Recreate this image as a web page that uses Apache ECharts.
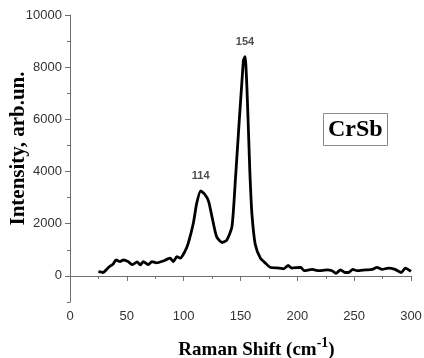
<!DOCTYPE html>
<html>
<head>
<meta charset="utf-8">
<script src="https://cdn.jsdelivr.net/npm/echarts@6/dist/echarts.min.js"></script>
<style>html,body{margin:0;padding:0;background:#fff;}#c{width:424px;height:358px;}</style>
</head>
<body>
<div id="c"></div>
<script>
const ramanShift = [25,29,34,38,40.5,44,47,51,55,59,62,64.5,69,72,76,82,88,91,94,97,101,104,108.5,111.5,115,119,122,125,129,134,138,142.5,145.5,152.5,154,158.5,160,163,167.5,172,176,184,188,192,195,203,206,213,219,226,230.5,234,238,242,245,248.7,252.5,260,266,270,274.5,280,286,291.5,295,300];
const intensity = [160,130,330,460,610,550,610,550,430,540,420,550,430,550,500,570,680,550,740,680,930,1250,2020,2790,3260,3100,2850,2250,1500,1280,1380,1890,3680,8250,8400,3700,2400,1200,680,490,330,300,270,400,300,330,200,250,200,230,200,100,230,130,130,250,200,230,250,330,250,300,250,130,300,170];
const peakShift = [115, 154];
const peakIntensity = [3260, 8400];
const peakLabels = ['114', '154'];
const yTicks = [0, 2000, 4000, 6000, 8000, 10000];
const yMinorTicks = [-1000, 1000, 3000, 5000, 7000, 9000];

const chart = echarts.init(document.getElementById('c'));
const axisColor = '#6f6f6f';
chart.setOption({
  animation: false,
  grid: {left: 70, right: 13, top: 15, bottom: 56, containLabel: false, outerBoundsMode: 'none'},
  title: {
    text: 'CrSb', left: 323, top: 113,
    padding: [5, 5, 4, 5],
    borderColor: '#8a8a8a', borderWidth: 1,
    textStyle: {fontFamily: 'Liberation Serif', fontWeight: 'bold', fontSize: 24, color: '#000'}
  },
  xAxis: {
    type: 'value', min: 0, max: 300, interval: 50,
    name: '{a|Raman Shift (cm}{s|-1}{a|)}',
    nameLocation: 'middle', nameGap: 34, nameMoveOverlap: false,
    nameTextStyle: {
      padding: [0, 0, 0, 32],
      rich: {
        a: {fontFamily: 'Liberation Serif', fontWeight: 'bold', fontSize: 19, color: '#000', verticalAlign: 'bottom'},
        s: {fontFamily: 'Liberation Serif', fontWeight: 'bold', fontSize: 14, color: '#000', verticalAlign: 'top', padding: [0, 0, 10, 0]}
      }
    },
    axisLine: {lineStyle: {color: axisColor, width: 1}},
    axisTick: {inside: false, length: 5, lineStyle: {color: axisColor}},
    minorTick: {show: true, splitNumber: 2, length: 3, lineStyle: {color: axisColor}},
    axisLabel: {color: '#333', fontFamily: 'Liberation Sans', fontSize: 13, margin: 8, formatter: v => String(v)},
    splitLine: {show: false}
  },
  yAxis: [{
    type: 'value', min: -1000, max: 10000,
    name: 'Intensity, arb.un.',
    nameLocation: 'middle', nameGap: 41, nameRotate: 90, nameMoveOverlap: false,
    nameTextStyle: {fontFamily: 'Liberation Serif', fontWeight: 'bold', fontSize: 21, color: '#000', padding: [0, 0, 0, 20]},
    axisLine: {show: true, lineStyle: {color: axisColor, width: 1}},
    axisTick: {show: true, length: 5, lineStyle: {color: axisColor}, customValues: yTicks},
    axisLabel: {color: '#333', fontFamily: 'Liberation Sans', fontSize: 13, margin: 8, customValues: yTicks, formatter: v => String(v)},
    minorTick: {show: false},
    splitLine: {show: false}
  }, {
    type: 'value', min: -1000, max: 10000, position: 'left',
    axisLine: {show: false},
    axisTick: {show: true, length: 3, lineStyle: {color: axisColor}, customValues: yMinorTicks},
    axisLabel: {show: false},
    splitLine: {show: false}
  }],
  series: [
    {
      type: 'line',
      data: ramanShift.map((x, i) => [x, intensity[i]]),
      showSymbol: false,
      smooth: 0.2,
      lineStyle: {color: '#000', width: 2.8},
      z: 3
    },
    {
      type: 'scatter',
      data: peakShift.map((x, i) => [x, peakIntensity[i], peakLabels[i]]),
      symbolSize: 0,
      label: {
        show: true, position: 'top', distance: 9,
        formatter: p => p.data[2],
        fontFamily: 'Liberation Sans', fontWeight: 'bold', fontSize: 11, color: '#222'
      },
      z: 4
    }
  ]
});
</script>
</body>
</html>
